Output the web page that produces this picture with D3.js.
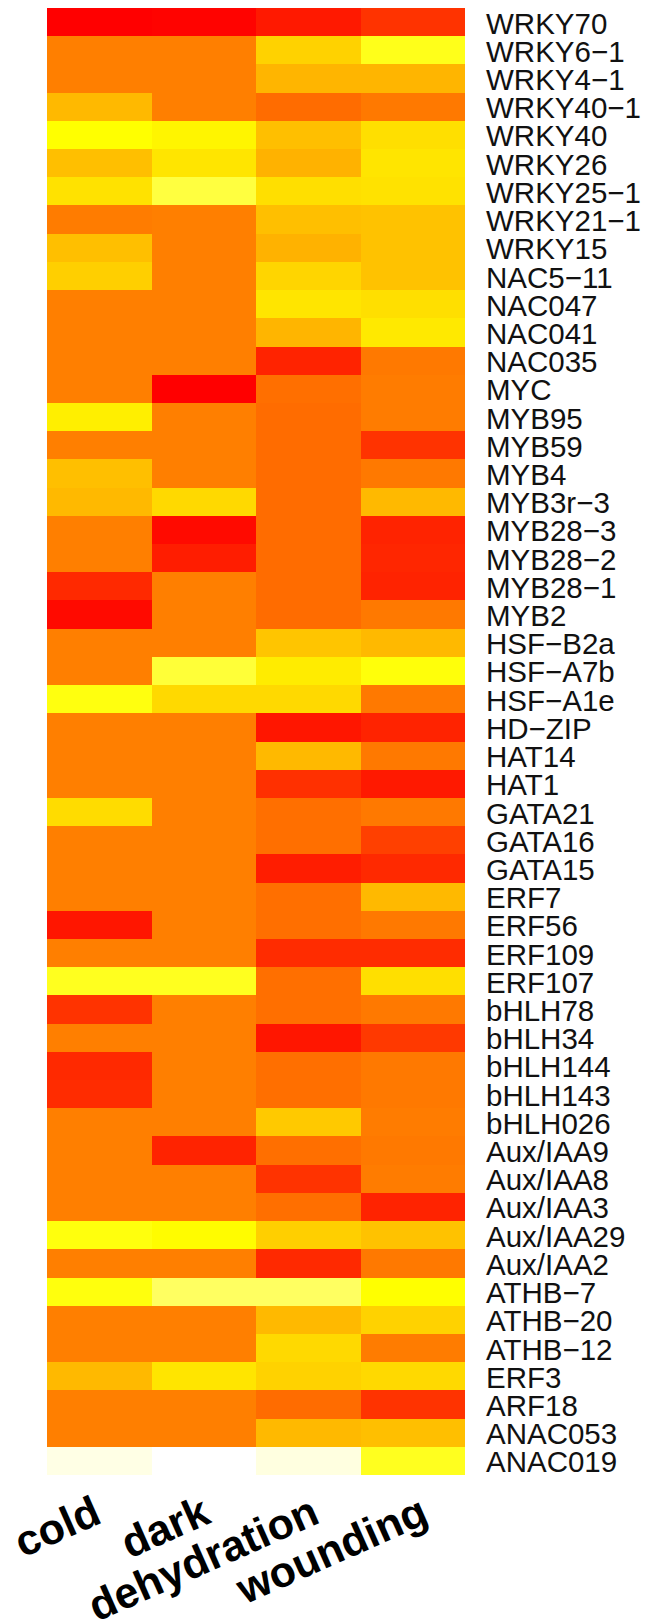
<!DOCTYPE html>
<html>
<head>
<meta charset="utf-8">
<script src="https://cdn.jsdelivr.net/npm/d3@7"></script>
<style>
  body { margin: 0; background: #fff; }
  svg { display: block; }
</style>
</head>
<body>
<svg id="chart" width="645" height="1623"></svg>
<script>
'use strict';

// conditions (columns) and genes (rows, top to bottom)
const conditions = ['cold', 'dark', 'dehydration', 'wounding'];
const genes = [
  'WRKY70', 'WRKY6−1', 'WRKY4−1', 'WRKY40−1', 'WRKY40', 'WRKY26', 'WRKY25−1',
  'WRKY21−1', 'WRKY15', 'NAC5−11', 'NAC047', 'NAC041', 'NAC035', 'MYC', 'MYB95',
  'MYB59', 'MYB4', 'MYB3r−3', 'MYB28−3', 'MYB28−2', 'MYB28−1', 'MYB2', 'HSF−B2a',
  'HSF−A7b', 'HSF−A1e', 'HD−ZIP', 'HAT14', 'HAT1', 'GATA21', 'GATA16', 'GATA15',
  'ERF7', 'ERF56', 'ERF109', 'ERF107', 'bHLH78', 'bHLH34', 'bHLH144', 'bHLH143',
  'bHLH026', 'Aux/IAA9', 'Aux/IAA8', 'Aux/IAA3', 'Aux/IAA29', 'Aux/IAA2', 'ATHB−7',
  'ATHB−20', 'ATHB−12', 'ERF3', 'ARF18', 'ANAC053', 'ANAC019'
];

// expression per condition, one value per gene (same order as genes)
// red = low, orange = 0, yellow = high, white = highest
const cold = [
  -2, 0, 0, 0.9, 2, 1, 1.55, -0.05, 1, 1.25, 0, 0, 0, 0, 1.75,
  0, 1, 0.9, 0, 0, -1.35, -1.85, 0, 0, 2.06, 0, 0, 0, 1.45, 0, 0,
  0, -1.65, 0, 2.12, -1.2, 0, -1.35, -1.3, 0, 0, 0, 0, 2.05, 0, 2.05,
  0, 0, 0.9, 0, 0, 2.9
];
const dark = [
  -1.95, 0, 0, 0, 1.85, 1.6, 2.25, 0, 0, 0, 0, 0, 0, -2, 0,
  0, 0, 1.4, -1.85, -1.55, 0, 0, 0, 2.22, 1.4, 0, 0, 0, 0, 0, 0,
  0, 0, 0, 2.12, 0, 0, 0, 0, 0, -1.45, 0, 0, 1.95, 0, 2.38,
  0, 0, 1.6, 0, 0, 3
];
const dehydration = [
  -1.6, 1.3, 0.85, -0.3, 1, 0.8, 1.5, 1, 0.8, 1.35, 1.6, 0.85, -1.45, -0.25, -0.3,
  -0.3, -0.3, -0.3, -0.3, -0.3, -0.3, -0.3, 1.1, 1.7, 1.4, -1.65, 0.9, -1.25, -0.25, -0.25, -1.55,
  -0.25, -0.25, -1.3, -0.25, -0.25, -1.65, -0.25, -0.25, 1.15, -0.25, -1.2, -0.25, 1.25, -1.35, 2.38,
  0.9, 1.4, 1.3, -0.3, 0.9, 2.88
];
const wounding = [
  -1.2, 2.1, 0.85, -0.1, 1.5, 1.6, 1.55, 1.05, 1.05, 1.05, 1.5, 1.65, -0.1, -0.05, -0.05,
  -1.2, -0.1, 0.9, -1.45, -1.4, -1.45, -0.1, 0.9, 2.04, -0.1, -1.45, -0.1, -1.6, -0.1, -1, -1.35,
  0.9, -0.1, -1.3, 1.5, -0.1, -1.1, -0.1, -0.1, -0.05, -0.1, -0.05, -1.45, 1.05, -0.1, 2,
  1.3, -0.05, 1.4, -1.2, 1, 2.12
];
const series = [cold, dark, dehydration, wounding];

// flatten into cells for the heatmap
const cells = [];
conditions.forEach((c, ci) => {
  genes.forEach((g, gi) => {
    cells.push({ cond: c, gene: g, value: series[ci][gi] });
  });
});

const svg = d3.select('#chart');

// scales
const x = d3.scaleBand()
  .domain(conditions)
  .range([47, 465]);
const y = d3.scaleBand()
  .domain(genes)
  .range([8, 1475]);
// bottom labels sit on a slightly wider spacing than the columns
const xLabel = d3.scaleBand()
  .domain(conditions)
  .range([49, 485]);
//heat colours: red -> orange -> yellow -> white
const color = d3.scaleLinear()
  .domain([-2, 0, 2, 3])
  .range(['#ff0000', '#ff7f00', '#ffff00', '#ffffff'])
  .clamp(true);

//cells
svg.append('g')
  .selectAll('rect')
  .data(cells)
  .join('rect')
  .attr('x', (d) => x(d.cond))
  .attr('y', (d) => y(d.gene))
  .attr('width', x.bandwidth())
  .attr('height', y.bandwidth())
  .attr('shape-rendering', 'crispEdges')
  .attr('fill', (d) => color(d.value));

//gene labels on the right
svg.append('g')
  .selectAll('text')
  .data(genes)
  .join('text')
  .attr('x', 486)
  .attr('y', (d) => y(d) + y.bandwidth() / 2 + 11.5)
  .attr('font-family', 'Liberation Sans, Arial, sans-serif')
  .attr('font-size', 29.5)
  .attr('fill', '#111')
  .text((d) => d);

//condition labels underneath, tilted, ending at the label position
svg.append('g')
  .selectAll('text')
  .data(conditions)
  .join('text')
  .attr('transform', (d) => `translate(${xLabel(d) + xLabel.bandwidth() / 2},1522) rotate(-24)`)
  .attr('text-anchor', 'end')
  .attr('font-family', 'Liberation Sans, Arial, sans-serif')
  .attr('font-weight', 'bold')
  .attr('font-size', 43)
  .attr('fill', '#000')
  .text((d) => d);
</script>
</body>
</html>
